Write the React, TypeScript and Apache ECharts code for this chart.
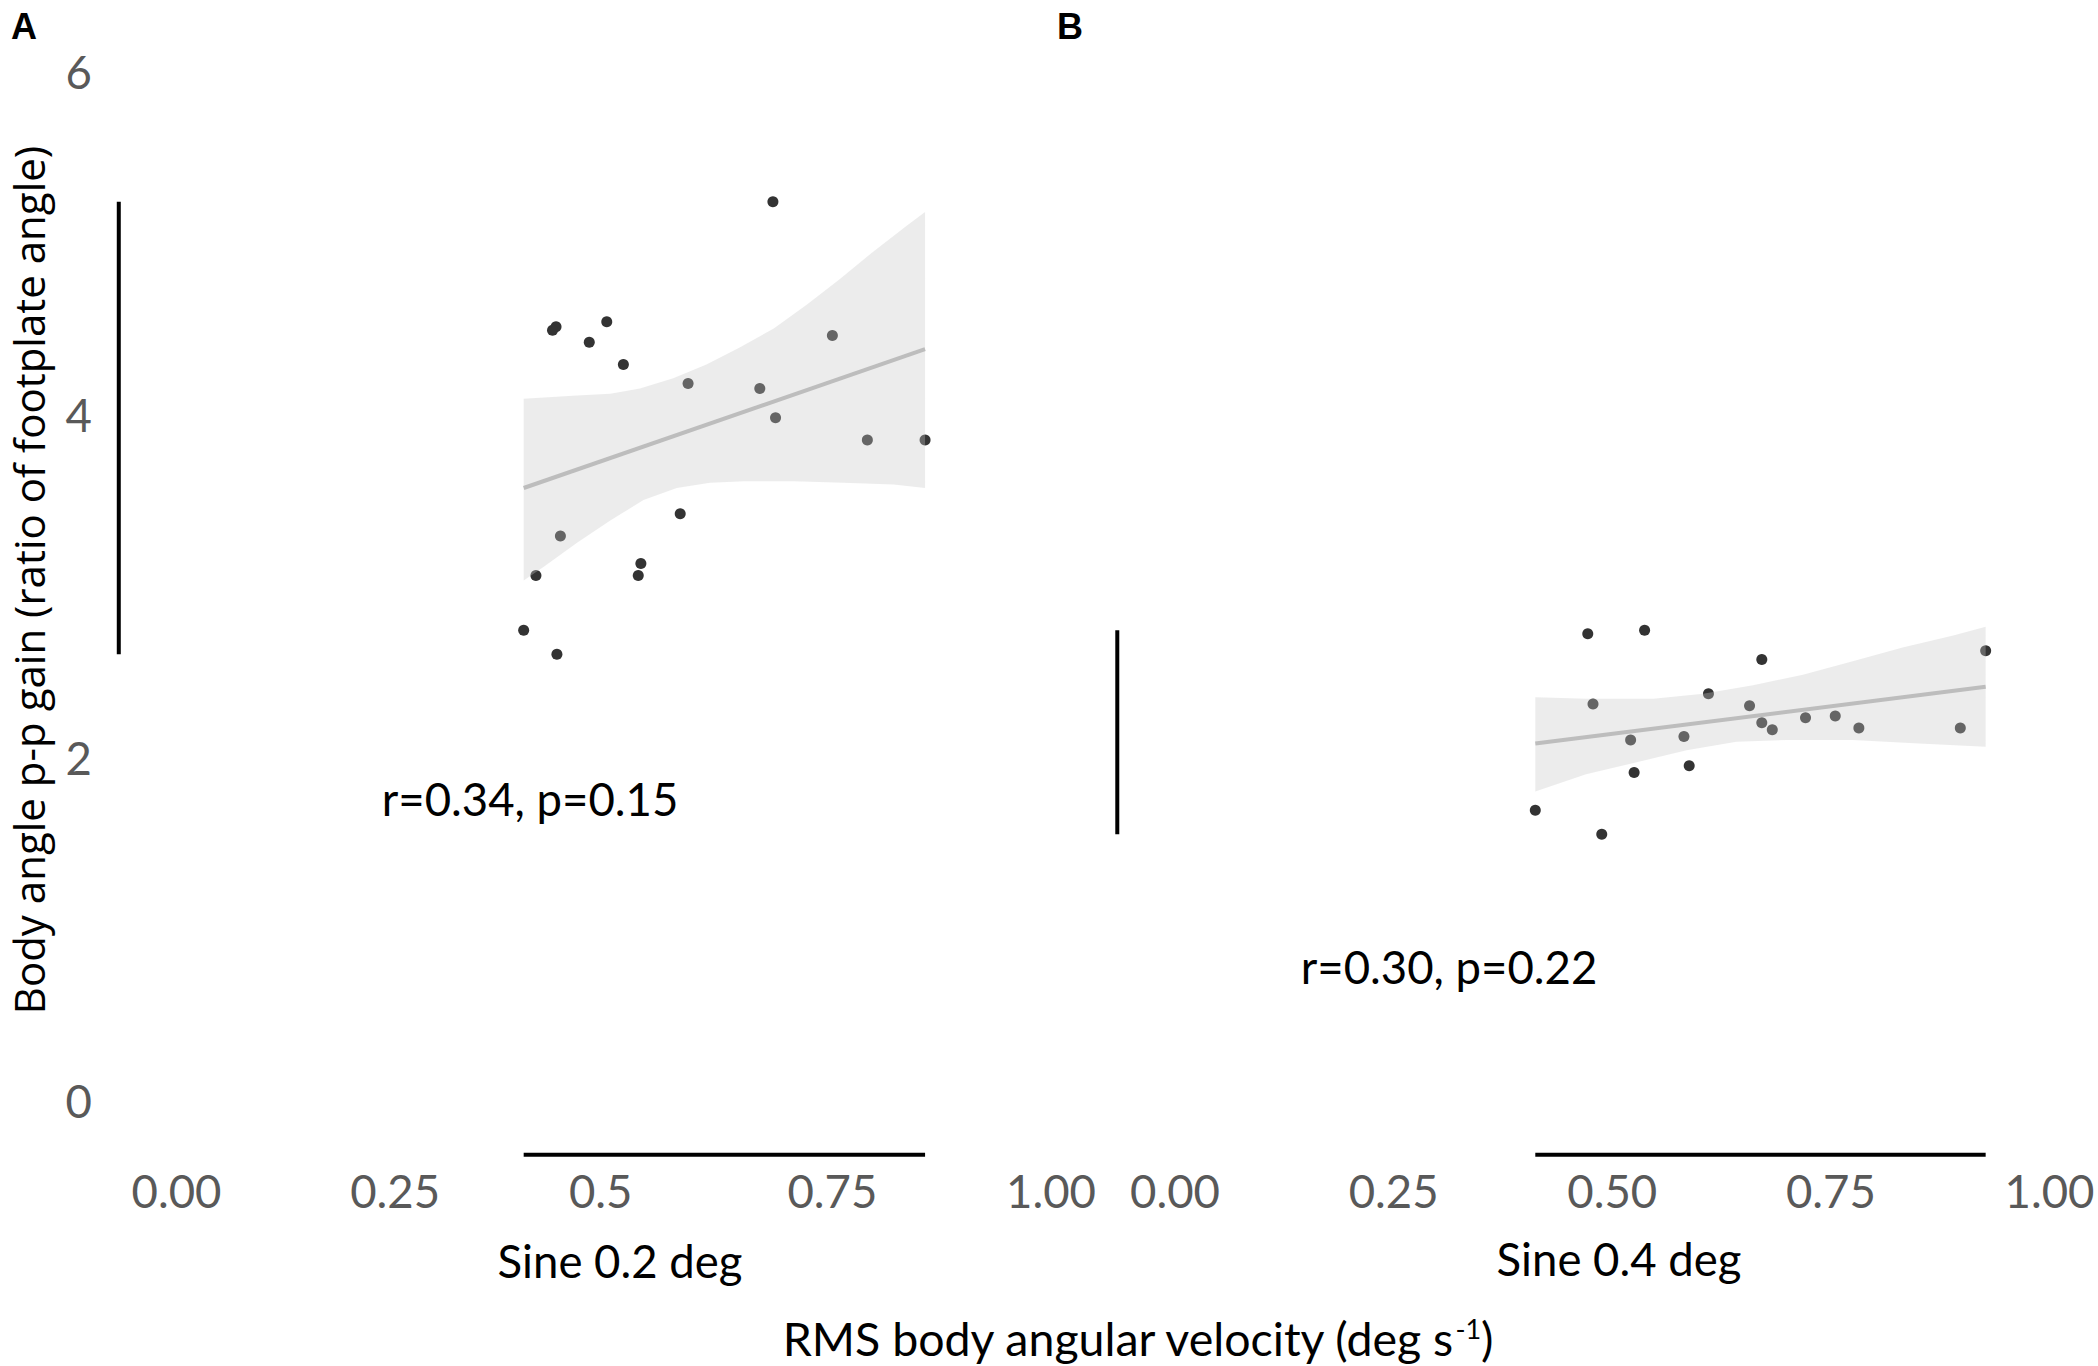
import React, { useEffect, useRef } from "react";
import * as echarts from "echarts";

// ---- Data ----
const sine02X = [0.682, 0.434, 0.430, 0.492, 0.472, 0.511, 0.750, 0.585, 0.667, 0.685, 0.790, 0.856, 0.576, 0.439, 0.531, 0.528, 0.411, 0.397, 0.435];
const sine02Y = [5.24, 4.51, 4.49, 4.54, 4.42, 4.29, 4.46, 4.18, 4.15, 3.98, 3.85, 3.85, 3.42, 3.29, 3.13, 3.06, 3.06, 2.74, 2.60];

const sine04X = [0.472, 0.537, 0.671, 0.927, 0.478, 0.610, 0.657, 0.671, 0.683, 0.721, 0.755, 0.782, 0.898, 0.521, 0.582, 0.525, 0.588, 0.412, 0.488];
const sine04Y = [2.72, 2.74, 2.57, 2.62, 2.31, 2.37, 2.30, 2.20, 2.16, 2.23, 2.24, 2.17, 2.17, 2.10, 2.12, 1.91, 1.95, 1.69, 1.55];

const fitA = [[0.397, 3.57], [0.856, 4.38]];
const bandAUpper = [[0.397, 4.09], [0.458, 4.11], [0.496, 4.12], [0.530, 4.15], [0.568, 4.21], [0.606, 4.29], [0.644, 4.39], [0.683, 4.50], [0.721, 4.64], [0.759, 4.79], [0.797, 4.95], [0.835, 5.10], [0.856, 5.18]];
const bandALower = [[0.397, 3.03], [0.420, 3.11], [0.458, 3.25], [0.496, 3.38], [0.534, 3.50], [0.572, 3.57], [0.610, 3.60], [0.649, 3.61], [0.706, 3.61], [0.763, 3.60], [0.820, 3.59], [0.856, 3.57]];

const fitB = [[0.412, 2.08], [0.927, 2.41]];
const bandBUpper = [[0.412, 2.35], [0.470, 2.34], [0.547, 2.34], [0.604, 2.37], [0.661, 2.42], [0.718, 2.48], [0.775, 2.56], [0.832, 2.64], [0.890, 2.71], [0.927, 2.76]];
const bandBLower = [[0.412, 1.80], [0.470, 1.90], [0.528, 1.97], [0.585, 2.04], [0.642, 2.09], [0.699, 2.10], [0.775, 2.10], [0.851, 2.08], [0.927, 2.06]];

const xTicks = [0, 0.25, 0.5, 0.75, 1];
const yTicks = [0, 2, 4, 6];
const panelNames = ["A", "B"];
const conditionNames = ["Sine 0.2 deg", "Sine 0.4 deg"];
const statTexts = ["r=0.34, p=0.15", "r=0.30, p=0.22"];
const yTitle = "Body angle p-p gain (ratio of footplate angle)";
const xTitle = "RMS body angular velocity (deg s";
const xTitleSup = "-1";

// ---- Layout ----
const X_MIN = -0.066;
const X_MAX = 1.0;
const Y_MIN = -0.32;
const Y_MAX = 6.2;
const Y0 = 1100;
const YS = 171.43;
const XS = 874.5;
const XA0 = 176.5;
const XB0 = 1175;

const CAL = "Lato, 'Noto Sans', sans-serif";
const LABEL_COLOR = "#595959";
const LABEL_SIZE = 45.5;

const pairs = (xs: number[], ys: number[]) => xs.map((x, i) => [x, ys[i]]);

function bandSeries(idx: number, upper: number[][], lower: number[][]) {
  return {
    type: "custom",
    xAxisIndex: idx,
    yAxisIndex: idx,
    z: 3,
    silent: true,
    data: [upper[0]],
    renderItem: (_params: any, api: any) => {
      const pts = upper
        .map((p) => api.coord(p))
        .concat(lower.slice().reverse().map((p) => api.coord(p)));
      return {
        type: "polygon",
        shape: { points: pts },
        style: { fill: "rgba(200,200,200,0.34)" },
      };
    },
  };
}

function frameSeries(idx: number, xs: number[], ys: number[]) {
  const common = {
    type: "line",
    xAxisIndex: idx,
    yAxisIndex: idx,
    symbol: "none",
    clip: false,
    silent: true,
    z: 5,
    lineStyle: { color: "#000", width: 4 },
  };
  return [
    { ...common, data: [[X_MIN, Math.min(...ys)], [X_MIN, Math.max(...ys)]] },
    { ...common, data: [[Math.min(...xs), Y_MIN], [Math.max(...xs), Y_MIN]] },
  ];
}

function xAxis(idx: number) {
  return {
    type: "value",
    gridIndex: idx,
    min: X_MIN,
    max: X_MAX,
    axisLine: { show: false },
    axisTick: { show: false },
    splitLine: { show: false },
    axisLabel: {
      customValues: xTicks,
      color: LABEL_COLOR,
      fontSize: LABEL_SIZE,
      fontFamily: CAL,
      margin: 13,
      formatter: (v: number) =>
        idx === 0 && v === 0.5 ? "{s|0.5}" : v.toFixed(2),
      rich: {
        s: {
          color: LABEL_COLOR,
          fontSize: LABEL_SIZE,
          fontFamily: CAL,
          padding: [0, 26, 0, 0],
        },
      },
    },
  };
}

function yAxis(idx: number) {
  return {
    type: "value",
    gridIndex: idx,
    min: Y_MIN,
    max: Y_MAX,
    axisLine: { show: false },
    axisTick: { show: false },
    splitLine: { show: false },
    axisLabel: {
      show: idx === 0,
      customValues: yTicks,
      color: LABEL_COLOR,
      fontSize: LABEL_SIZE,
      fontFamily: CAL,
      margin: 27,
    },
  };
}

function scatter(idx: number, xs: number[], ys: number[]) {
  return {
    type: "scatter",
    xAxisIndex: idx,
    yAxisIndex: idx,
    symbolSize: 11,
    z: 2,
    itemStyle: { color: "#333333", opacity: 1 },
    data: pairs(xs, ys),
  };
}

function fitSeries(idx: number, data: number[][]) {
  return {
    type: "line",
    xAxisIndex: idx,
    yAxisIndex: idx,
    symbol: "none",
    z: 4,
    silent: true,
    lineStyle: { color: "#bdbdbd", width: 4 },
    data,
  };
}

export default function App() {
  const ref = useRef<HTMLDivElement>(null);
  useEffect(() => {
    if (!ref.current) return;
    const chart = echarts.init(ref.current, undefined, { renderer: "svg" });
    const top = Y0 - Y_MAX * YS;
    const height = (Y_MAX - Y_MIN) * YS;
    const width = (X_MAX - X_MIN) * XS;
    const textStyle = (text: string, size: number, family: string, extra: any = {}) => ({
      text,
      fontSize: size,
      fontFamily: family,
      fill: "#000",
      align: "center",
      verticalAlign: "middle",
      ...extra,
    });
    const boldFont = "'Liberation Sans', Arial, sans-serif";
    chart.setOption({
      animation: false,
      backgroundColor: "#ffffff",
      grid: [
        { left: XA0 + X_MIN * XS, top, width, height },
        { left: XB0 + X_MIN * XS, top, width, height },
      ],
      xAxis: [xAxis(0), xAxis(1)],
      yAxis: [yAxis(0), yAxis(1)],
      series: [
        scatter(0, sine02X, sine02Y),
        bandSeries(0, bandAUpper, bandALower),
        fitSeries(0, fitA),
        ...frameSeries(0, sine02X, sine02Y),
        scatter(1, sine04X, sine04Y),
        bandSeries(1, bandBUpper, bandBLower),
        fitSeries(1, fitB),
        ...frameSeries(1, sine04X, sine04Y),
      ],
      graphic: [
        { type: "text", x: 24, y: 26, style: textStyle(panelNames[0], 36, boldFont, { fontWeight: "bold" }) },
        { type: "text", x: 1070, y: 26, style: textStyle(panelNames[1], 36, boldFont, { fontWeight: "bold" }) },
        { type: "text", x: 28, y: 580, rotation: Math.PI / 2, style: textStyle(yTitle, 42, "'Open Sans', sans-serif") },
        { type: "text", x: 620, y: 1260, style: textStyle(conditionNames[0], LABEL_SIZE, CAL) },
        { type: "text", x: 1619, y: 1258, style: textStyle(conditionNames[1], LABEL_SIZE, CAL) },
        { type: "text", x: 530, y: 798, style: textStyle(statTexts[0], LABEL_SIZE, CAL) },
        { type: "text", x: 1449, y: 966, style: textStyle(statTexts[1], LABEL_SIZE, CAL) },
        {
          type: "text",
          x: 1137,
          y: 1338,
          style: textStyle(xTitle + "{sup|" + xTitleSup + "})", 46.5, CAL, {
            rich: {
              sup: { fontSize: 27, fontFamily: CAL, fill: "#000", verticalAlign: "top", lineHeight: 46 },
            },
          }),
        },
      ],
    });
    return () => chart.dispose();
  }, []);
  return (
    <div
      ref={ref}
      style={{ position: "fixed", left: 0, top: 0, width: 2098, height: 1366, background: "#fff" }}
    />
  );
}
